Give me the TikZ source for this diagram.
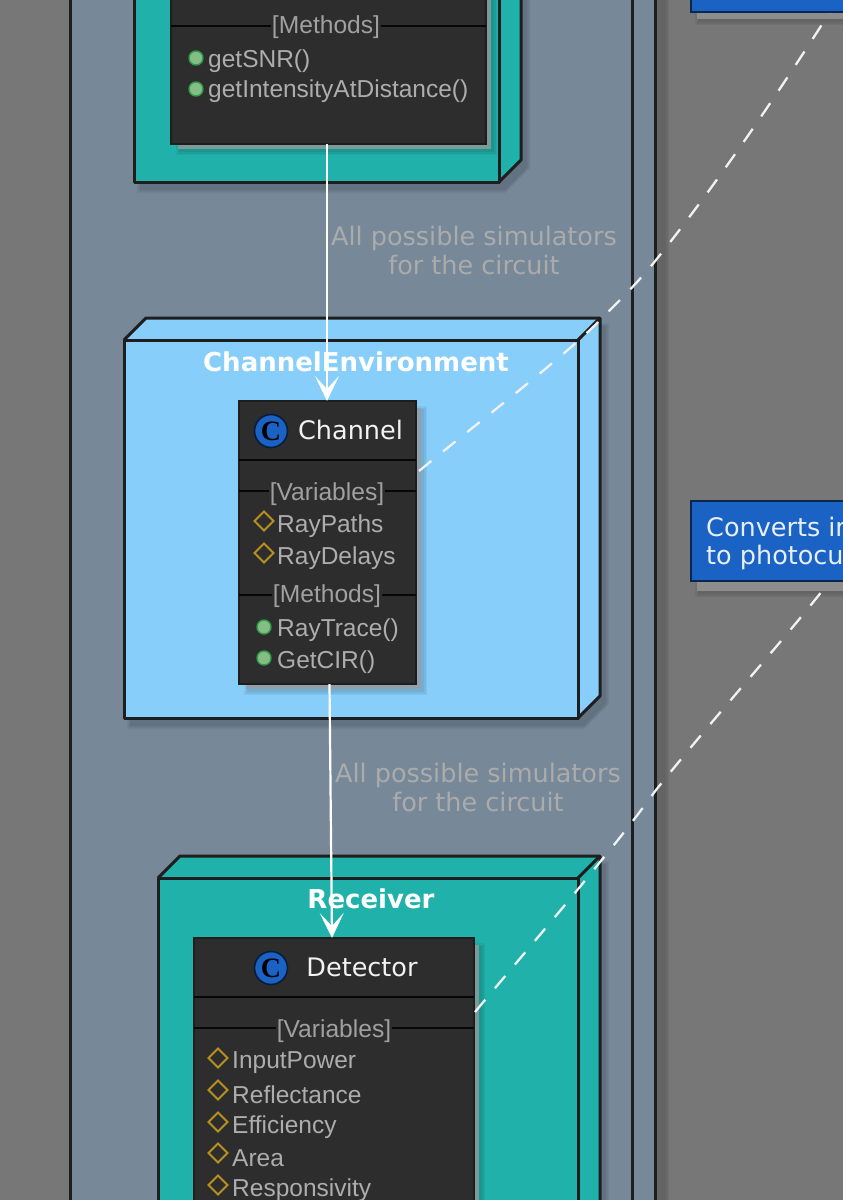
\documentclass[tikz,border=0pt]{standalone}
\usepackage{fontspec}
\setmainfont{Liberation Sans}
\newfontfamily\titlefont{DejaVu Sans}
\newfontfamily\badgefont{Liberation Serif}
\usetikzlibrary{arrows.meta,calc}
\definecolor{bgc}{HTML}{777777}
\definecolor{pkgc}{HTML}{778899}
\definecolor{tealc}{HTML}{20B2AA}
\definecolor{skyc}{HTML}{87CEFA}
\definecolor{classc}{HTML}{2D2D2D}
\definecolor{edgec}{HTML}{1E1E1E}
\definecolor{notec}{HTML}{1A62C4}
\definecolor{memberc}{HTML}{ADADAD}
\definecolor{sectc}{HTML}{A0A0A0}
\definecolor{labelc}{HTML}{ABABAB}
\definecolor{gold}{HTML}{B8901F}
\definecolor{dotc}{HTML}{84BE84}
\definecolor{dotb}{HTML}{2E9A4E}
\definecolor{shc}{HTML}{9C9C9C}
\tikzset{
  x=1pt,y=-1pt,
  face/.style={draw=edgec,line width=3pt,line join=round},
  classbox/.style={draw=edgec,line width=2pt,fill=classc,anchor=north west,inner sep=0pt,outer sep=0pt,rectangle},
  divider/.style={draw=black!85!classc,line width=1.6pt},
  member/.style={text=memberc,anchor=west,inner sep=0pt,font=\fontsize{24.5}{26}\selectfont},
  section/.style={text=sectc,fill=classc,inner sep=1pt,font=\fontsize{24.6}{26}\selectfont},
  classtitle/.style={text=white!95!black,inner sep=0pt,font=\titlefont\fontsize{25.5}{28}\selectfont},
  nodetitle/.style={text=white,inner sep=0pt,font=\titlefont\bfseries\fontsize{26}{28}\selectfont},
  edgelabel/.style={text=labelc,inner sep=0pt,align=center,font=\titlefont\fontsize{25.5}{29}\selectfont},
  badge/.style={circle,draw=black!70!notec,line width=1.6pt,fill=notec,minimum size=33pt,inner sep=0pt,text=black,font=\badgefont\bfseries\fontsize{28}{28}\selectfont},
  dia/.style={draw=gold,line width=2pt},
  dot/.style={circle,fill=dotc,draw=dotb,line width=1.4pt,minimum size=14pt,inner sep=0pt},
  notebox/.style={draw=black!60!notec,line width=2pt,fill=notec,anchor=north west,inner sep=0pt,outer sep=0pt,rectangle},
  notetext/.style={text=white!90!notec,anchor=west,inner sep=0pt,font=\titlefont\fontsize{25.5}{28}\selectfont},
  solidedge/.style={draw=white,line width=2.2pt,-{Stealth[length=25pt,width=24pt,inset=13pt]}},
  dashedge/.style={draw=white!90!bgc,line width=2.3pt,dash pattern=on 16pt off 15pt},
}
% soft dark shadow: x1 y1 x2 y2
\newcommand{\softshadow}[4]{%
  \fill[black,opacity=.05] (#1-3,#2-3) rectangle (#3+3,#4+3);
  \fill[black,opacity=.05] (#1-1.5,#2-1.5) rectangle (#3+1.5,#4+1.5);
  \fill[black,opacity=.05] (#1,#2) rectangle (#3,#4);
}
% shadow with a light core, as under classes and notes
\newcommand{\coreshadow}[4]{%
  \softshadow{#1}{#2}{#3}{#4}
  \fill[shc,opacity=.75] (#1-1,#2-1) rectangle (#3-3,#4-3);
}
% 3D deployment node: x1 y1 x2 y2 colour
\newcommand{\boxnode}[5]{%
  \foreach \g/\o in {3/.05,1.5/.05,0/.06}{
    \fill[black,opacity=\o] (#1+6-\g,#2+8) -- (#1+28,#2-14-\g) -- (#3+28+\g,#2-14-\g) -- (#3+28+\g,#4-14) -- (#3+6,#4+8+\g) -- (#1+6-\g,#4+8+\g) -- cycle;
  }
  \fill[#5] (#1,#2) -- (#1+22,#2-22) -- (#3+22,#2-22) -- (#3+22,#4-22) -- (#3,#4) -- (#1,#4) -- cycle;
  \draw[face] (#1,#2) rectangle (#3,#4);
  \draw[face] (#1,#2) -- (#1+22,#2-22) -- (#3+22,#2-22) -- (#3+22,#4-22) -- (#3,#4);
  \draw[face] (#3,#2) -- (#3+22,#2-22);
}
\newcommand{\diam}[2]{\draw[dia] (#1-9.5,#2) -- (#1,#2-9.5) -- (#1+9.5,#2) -- (#1,#2+9.5) -- cycle;}
\begin{document}
\begin{tikzpicture}
\useasboundingbox (0,0) rectangle (843,1200);
\clip (0,0) rectangle (843,1200);
\fill[bgc] (0,0) rectangle (843,1200);

% outer package
\softshadow{80}{-40}{666}{1240}
\fill[pkgc] (70,-40) rectangle (655,1240);
\draw[face] (70,-40) -- (70,1240);
\draw[face] (632,-40) -- (632,1240);
\draw[face] (655,-40) -- (655,1240);

% upper teal node
\boxnode{134}{-100}{499}{182}{tealc}
\coreshadow{179}{-60}{494}{152}
\node[classbox,minimum width=315pt,minimum height=204pt] (source) at (171,-60) {};
\draw[divider] (171,26) -- (486,26);
\node[section] (mtitle) at (326,27) {[Methods]};
\node[dot] (d1) at (196,58) {};
\node[member] (m1) at (208,61) {getSNR()};
\node[dot] (d2) at (196,89) {};
\node[member] (m2) at (208,91) {getIntensityAtDistance()};

% channel
\boxnode{124}{340}{578}{718}{skyc}
\node[nodetitle] (chtitle) at (356,362) {ChannelEnvironment};
\coreshadow{247}{409}{424}{692}
\node[classbox,minimum width=177pt,minimum height=283pt] (channel) at (239,401) {};
\node[badge] (chc) at (271,431) {C};
\node[classtitle] (chname) at (350.5,430) {Channel};
\draw[divider] (239,460) -- (416,460);
\draw[divider] (239,491) -- (416,491);
\node[section] (chv) at (327,494) {[Variables]};
\diam{264}{521}
\node[member] (c1) at (277,526) {RayPaths};
\diam{264}{553}
\node[member] (c2) at (277,558) {RayDelays};
\draw[divider] (239,595) -- (416,595);
\node[section] (chm) at (327,596) {[Methods]};
\node[dot] (c3d) at (264,627) {};
\node[member] (c3) at (277,630) {RayTrace()};
\node[dot] (c4d) at (264,658) {};
\node[member] (c4) at (277,662) {GetCIR()};

% receiver
\boxnode{158}{878}{578}{1300}{tealc}
\node[nodetitle] (rxtitle) at (371,899) {Receiver};
\coreshadow{202}{946}{482}{1300}
\node[classbox,minimum width=280pt,minimum height=340pt] (detector) at (194,938) {};
\node[badge] (dec) at (271,968) {C};
\node[classtitle] (dename) at (362,967) {Detector};
\draw[divider] (194,997) -- (474,997);
\draw[divider] (194,1028) -- (474,1028);
\node[section] (dev) at (334,1031) {[Variables]};
\diam{218}{1058}
\node[member] (r1) at (232,1063) {InputPower};
\diam{218}{1090}
\node[member] (r2) at (232,1095) {Reflectance};
\diam{218}{1122}
\node[member] (r3) at (232,1127) {Efficiency};
\diam{218}{1153}
\node[member] (r4) at (232,1158) {Area};
\diam{218}{1185}
\node[member] (r5) at (232,1190) {Responsivity};

% edge labels
\node[edgelabel] (l1) at (474,250) {All possible simulators\\for the circuit};
\node[edgelabel] (l2) at (478,787) {All possible simulators\\for the circuit};

% connectors
\draw[solidedge] ([xshift=-1.5pt]source.south) -- ([xshift=-0.5pt]channel.north);
\draw[solidedge] ([xshift=2pt]channel.south) -- ([xshift=-2pt]detector.north);

% note shadows, then the dashed links, then the notes over them
\coreshadow{698}{-60}{1100}{22}
\coreshadow{698}{509}{1100}{594}
\draw[dashedge] ([yshift=71.5pt,xshift=3pt]channel.east) .. controls (480,421) and (570,352) .. (600,320) .. controls (625,295) and (640,280) .. (656,260) .. controls (720,180) and (780,90) .. (830,12);
\draw[dashedge] ([xshift=1pt,yshift=96pt]detector.east) .. controls (510,970) and (570,900) .. (600,862) .. controls (620,838) and (640,812) .. (656,790) .. controls (720,710) and (780,645) .. (830,581);
\node[notebox,minimum width=400pt,minimum height=72pt] (note1) at (691,-60) {};
\node[notebox,minimum width=400pt,minimum height=80pt] (note2) at (691,501) {};
\node[notetext] (n2a) at (706,527) {Converts in};
\node[notetext] (n2b) at (706,557) {to photocu};
\end{tikzpicture}
\end{document}
